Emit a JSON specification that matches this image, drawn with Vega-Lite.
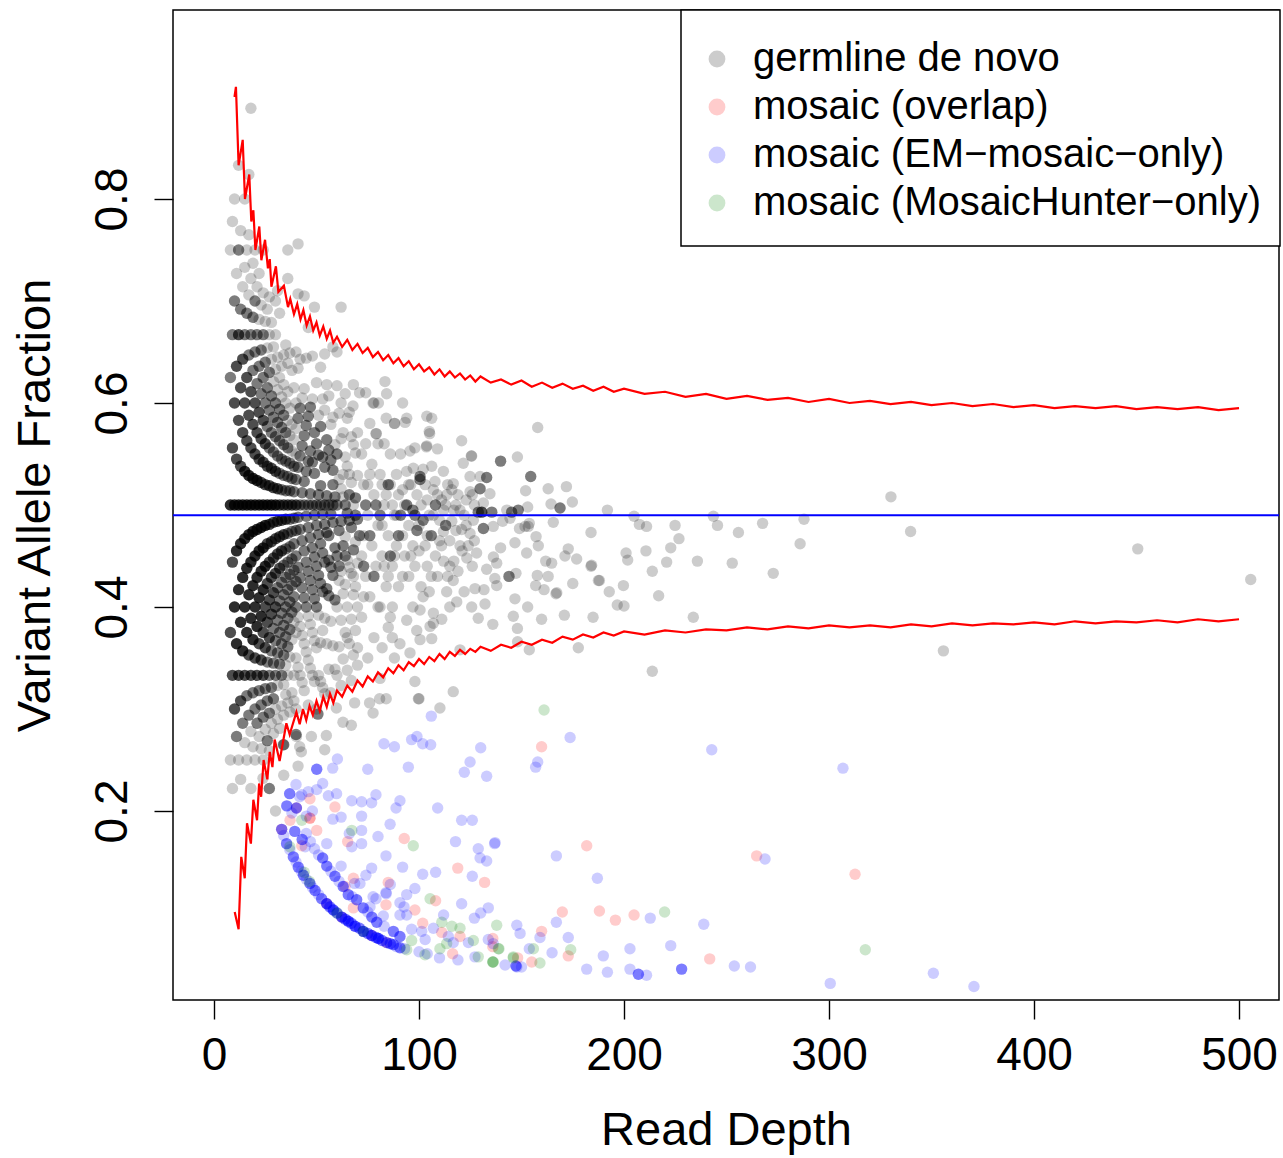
{
"$schema":"https://vega.github.io/schema/vega-lite/v6.json",
"width":1106,"height":990,
"autosize":{"type":"none"},
"padding":{"left":173,"top":10,"right":4,"bottom":158},
"background":"white",
"config":{
"view":{"stroke":"black","strokeWidth":1.5},
"font":"Liberation Sans",
"axis":{"grid":false,"domain":false,"tickColor":"black","tickWidth":1.4,"tickSize":19,"labelColor":"black","labelFont":"Liberation Sans","labelFontSize":46,"titleFont":"Liberation Sans","titleFontSize":47,"titleFontWeight":"normal","titleColor":"black"},
"legend":{"strokeWidth":1.5}
},
"datasets":{
"g":[
{"d":8,"v":0.25,"n":1},{"d":8,"v":0.375,"n":3},{"d":8,"v":0.5,"n":4},{"d":8,"v":0.625,"n":2},{"d":8,"v":0.75,"n":1},
{"d":9,"v":0.222,"n":1},{"d":9,"v":0.333,"n":3},{"d":9,"v":0.444,"n":3},{"d":9,"v":0.556,"n":3},{"d":9,"v":0.667,"n":2},{"d":9,"v":0.778,"n":1},
{"d":10,"v":0.3,"n":3},{"d":10,"v":0.4,"n":4},{"d":10,"v":0.5,"n":4},{"d":10,"v":0.6,"n":3},{"d":10,"v":0.7,"n":2},{"d":10,"v":0.8,"n":1},
{"d":11,"v":0.273,"n":2},{"d":11,"v":0.364,"n":4},{"d":11,"v":0.455,"n":4},{"d":11,"v":0.545,"n":3},{"d":11,"v":0.636,"n":3},{"d":11,"v":0.727,"n":1},
{"d":12,"v":0.25,"n":1},{"d":12,"v":0.333,"n":3},{"d":12,"v":0.417,"n":4},{"d":12,"v":0.5,"n":4},{"d":12,"v":0.583,"n":3},{"d":12,"v":0.667,"n":3},{"d":12,"v":0.75,"n":2},{"d":12,"v":0.833,"n":1},
{"d":13,"v":0.231,"n":1},{"d":13,"v":0.308,"n":3},{"d":13,"v":0.385,"n":4},{"d":13,"v":0.462,"n":4},{"d":13,"v":0.538,"n":3},{"d":13,"v":0.615,"n":3},{"d":13,"v":0.692,"n":2},{"d":13,"v":0.769,"n":1},
{"d":14,"v":0.286,"n":2},{"d":14,"v":0.357,"n":4},{"d":14,"v":0.429,"n":4},{"d":14,"v":0.5,"n":4},{"d":14,"v":0.571,"n":3},{"d":14,"v":0.643,"n":3},{"d":14,"v":0.714,"n":1},
{"d":15,"v":0.267,"n":1},{"d":15,"v":0.333,"n":3},{"d":15,"v":0.4,"n":4},{"d":15,"v":0.467,"n":4},{"d":15,"v":0.533,"n":4},{"d":15,"v":0.6,"n":3},{"d":15,"v":0.667,"n":2},{"d":15,"v":0.733,"n":1},{"d":15,"v":0.8,"n":1},
{"d":16,"v":0.25,"n":1},{"d":16,"v":0.313,"n":2},{"d":16,"v":0.375,"n":4},{"d":16,"v":0.438,"n":4},{"d":16,"v":0.5,"n":4},{"d":16,"v":0.563,"n":3},{"d":16,"v":0.625,"n":3},{"d":16,"v":0.688,"n":2},{"d":16,"v":0.75,"n":1},
{"d":17,"v":0.294,"n":2},{"d":17,"v":0.353,"n":3},{"d":17,"v":0.412,"n":4},{"d":17,"v":0.471,"n":4},{"d":17,"v":0.529,"n":4},{"d":17,"v":0.588,"n":3},{"d":17,"v":0.647,"n":2},{"d":17,"v":0.706,"n":1},{"d":17,"v":0.765,"n":1},{"d":17,"v":0.824,"n":1},
{"d":18,"v":0.222,"n":1},{"d":18,"v":0.278,"n":1},{"d":18,"v":0.333,"n":3},{"d":18,"v":0.389,"n":4},{"d":18,"v":0.444,"n":4},{"d":18,"v":0.5,"n":4},{"d":18,"v":0.556,"n":3},{"d":18,"v":0.611,"n":3},{"d":18,"v":0.667,"n":2},{"d":18,"v":0.722,"n":1},{"d":18,"v":0.889,"n":1},
{"d":19,"v":0.263,"n":1},{"d":19,"v":0.316,"n":2},{"d":19,"v":0.368,"n":4},{"d":19,"v":0.421,"n":4},{"d":19,"v":0.474,"n":4},{"d":19,"v":0.526,"n":4},{"d":19,"v":0.579,"n":3},{"d":19,"v":0.632,"n":2},{"d":19,"v":0.684,"n":2},{"d":19,"v":0.737,"n":1},
{"d":20,"v":0.25,"n":1},{"d":20,"v":0.3,"n":2},{"d":20,"v":0.35,"n":3},{"d":20,"v":0.4,"n":4},{"d":20,"v":0.45,"n":4},{"d":20,"v":0.5,"n":4},{"d":20,"v":0.55,"n":3},{"d":20,"v":0.6,"n":3},{"d":20,"v":0.65,"n":2},{"d":20,"v":0.7,"n":2},{"d":20,"v":0.75,"n":1},
{"d":21,"v":0.286,"n":2},{"d":21,"v":0.333,"n":3},{"d":21,"v":0.381,"n":4},{"d":21,"v":0.429,"n":4},{"d":21,"v":0.476,"n":4},{"d":21,"v":0.524,"n":4},{"d":21,"v":0.571,"n":3},{"d":21,"v":0.619,"n":2},{"d":21,"v":0.667,"n":2},{"d":21,"v":0.714,"n":1},
{"d":22,"v":0.273,"n":1},{"d":22,"v":0.318,"n":2},{"d":22,"v":0.364,"n":3},{"d":22,"v":0.409,"n":4},{"d":22,"v":0.455,"n":4},{"d":22,"v":0.5,"n":4},{"d":22,"v":0.545,"n":3},{"d":22,"v":0.591,"n":3},{"d":22,"v":0.636,"n":2},{"d":22,"v":0.682,"n":1},{"d":22,"v":0.727,"n":1},
{"d":23,"v":0.261,"n":1},{"d":23,"v":0.304,"n":2},{"d":23,"v":0.348,"n":3},{"d":23,"v":0.391,"n":4},{"d":23,"v":0.435,"n":4},{"d":23,"v":0.478,"n":4},{"d":23,"v":0.522,"n":3},{"d":23,"v":0.565,"n":3},{"d":23,"v":0.609,"n":2},{"d":23,"v":0.652,"n":2},{"d":23,"v":0.696,"n":1},
{"d":24,"v":0.25,"n":1},{"d":24,"v":0.292,"n":2},{"d":24,"v":0.333,"n":3},{"d":24,"v":0.375,"n":3},{"d":24,"v":0.417,"n":4},{"d":24,"v":0.458,"n":4},{"d":24,"v":0.5,"n":4},{"d":24,"v":0.542,"n":3},{"d":24,"v":0.583,"n":3},{"d":24,"v":0.625,"n":2},{"d":24,"v":0.667,"n":2},{"d":24,"v":0.708,"n":1},{"d":24,"v":0.75,"n":1},
{"d":25,"v":0.28,"n":1},{"d":25,"v":0.32,"n":2},{"d":25,"v":0.36,"n":3},{"d":25,"v":0.4,"n":3},{"d":25,"v":0.44,"n":4},{"d":25,"v":0.48,"n":4},{"d":25,"v":0.52,"n":3},{"d":25,"v":0.56,"n":3},{"d":25,"v":0.6,"n":2},{"d":25,"v":0.64,"n":2},{"d":25,"v":0.68,"n":1},
{"d":26,"v":0.269,"n":2},{"d":26,"v":0.308,"n":2},{"d":26,"v":0.346,"n":2},{"d":26,"v":0.385,"n":3},{"d":26,"v":0.423,"n":3},{"d":26,"v":0.462,"n":3},{"d":26,"v":0.5,"n":4},{"d":26,"v":0.538,"n":3},{"d":26,"v":0.577,"n":2},{"d":26,"v":0.615,"n":2},{"d":26,"v":0.654,"n":1},{"d":26,"v":0.692,"n":1},
{"d":27,"v":0.222,"n":2},{"d":27,"v":0.259,"n":1},{"d":27,"v":0.296,"n":2},{"d":27,"v":0.333,"n":2},{"d":27,"v":0.37,"n":3},{"d":27,"v":0.407,"n":3},{"d":27,"v":0.444,"n":3},{"d":27,"v":0.481,"n":3},{"d":27,"v":0.519,"n":3},{"d":27,"v":0.556,"n":2},{"d":27,"v":0.593,"n":2},{"d":27,"v":0.63,"n":2},{"d":27,"v":0.667,"n":1},{"d":27,"v":0.704,"n":1},
{"d":28,"v":0.286,"n":1},{"d":28,"v":0.321,"n":2},{"d":28,"v":0.357,"n":2},{"d":28,"v":0.393,"n":3},{"d":28,"v":0.429,"n":3},{"d":28,"v":0.464,"n":3},{"d":28,"v":0.5,"n":4},{"d":28,"v":0.536,"n":3},{"d":28,"v":0.571,"n":2},{"d":28,"v":0.607,"n":2},{"d":28,"v":0.643,"n":1},{"d":28,"v":0.679,"n":1},
{"d":29,"v":0.276,"n":1},{"d":29,"v":0.31,"n":2},{"d":29,"v":0.345,"n":2},{"d":29,"v":0.379,"n":2},{"d":29,"v":0.414,"n":3},{"d":29,"v":0.448,"n":3},{"d":29,"v":0.483,"n":3},{"d":29,"v":0.517,"n":3},{"d":29,"v":0.552,"n":2},{"d":29,"v":0.586,"n":2},{"d":29,"v":0.621,"n":1},{"d":29,"v":0.655,"n":1},
{"d":30,"v":0.2,"n":1},{"d":30,"v":0.3,"n":1},{"d":30,"v":0.333,"n":2},{"d":30,"v":0.367,"n":2},{"d":30,"v":0.4,"n":3},{"d":30,"v":0.433,"n":3},{"d":30,"v":0.467,"n":3},{"d":30,"v":0.5,"n":4},{"d":30,"v":0.533,"n":3},{"d":30,"v":0.567,"n":2},{"d":30,"v":0.6,"n":2},{"d":30,"v":0.633,"n":1},{"d":30,"v":0.667,"n":1},{"d":30,"v":0.7,"n":1},
{"d":31,"v":0.29,"n":1},{"d":31,"v":0.323,"n":1},{"d":31,"v":0.355,"n":2},{"d":31,"v":0.387,"n":2},{"d":31,"v":0.419,"n":2},{"d":31,"v":0.452,"n":3},{"d":31,"v":0.484,"n":3},{"d":31,"v":0.516,"n":3},{"d":31,"v":0.548,"n":2},{"d":31,"v":0.581,"n":2},{"d":31,"v":0.613,"n":1},{"d":31,"v":0.645,"n":1},{"d":31,"v":0.71,"n":1},
{"d":32,"v":0.281,"n":1},{"d":32,"v":0.344,"n":2},{"d":32,"v":0.375,"n":2},{"d":32,"v":0.406,"n":2},{"d":32,"v":0.438,"n":3},{"d":32,"v":0.469,"n":3},{"d":32,"v":0.5,"n":3},{"d":32,"v":0.531,"n":2},{"d":32,"v":0.563,"n":2},{"d":32,"v":0.594,"n":2},{"d":32,"v":0.625,"n":1},{"d":32,"v":0.688,"n":1},
{"d":33,"v":0.303,"n":1},{"d":33,"v":0.333,"n":2},{"d":33,"v":0.364,"n":2},{"d":33,"v":0.394,"n":2},{"d":33,"v":0.424,"n":2},{"d":33,"v":0.455,"n":3},{"d":33,"v":0.485,"n":3},{"d":33,"v":0.515,"n":2},{"d":33,"v":0.545,"n":2},{"d":33,"v":0.576,"n":2},{"d":33,"v":0.606,"n":1},{"d":33,"v":0.636,"n":1},
{"d":34,"v":0.235,"n":1},{"d":34,"v":0.265,"n":2},{"d":34,"v":0.294,"n":1},{"d":34,"v":0.324,"n":1},{"d":34,"v":0.353,"n":2},{"d":34,"v":0.382,"n":2},{"d":34,"v":0.412,"n":2},{"d":34,"v":0.441,"n":2},{"d":34,"v":0.471,"n":3},{"d":34,"v":0.5,"n":3},{"d":34,"v":0.529,"n":2},{"d":34,"v":0.559,"n":2},{"d":34,"v":0.588,"n":2},{"d":34,"v":0.618,"n":1},{"d":34,"v":0.647,"n":1},
{"d":35,"v":0.314,"n":1},{"d":35,"v":0.343,"n":1},{"d":35,"v":0.371,"n":2},{"d":35,"v":0.4,"n":2},{"d":35,"v":0.429,"n":2},{"d":35,"v":0.457,"n":2},{"d":35,"v":0.486,"n":3},{"d":35,"v":0.514,"n":2},{"d":35,"v":0.543,"n":2},{"d":35,"v":0.571,"n":2},{"d":35,"v":0.6,"n":1},{"d":35,"v":0.657,"n":1},
{"d":36,"v":0.306,"n":1},{"d":36,"v":0.333,"n":1},{"d":36,"v":0.361,"n":2},{"d":36,"v":0.389,"n":2},{"d":36,"v":0.417,"n":2},{"d":36,"v":0.444,"n":2},{"d":36,"v":0.472,"n":2},{"d":36,"v":0.5,"n":3},{"d":36,"v":0.528,"n":2},{"d":36,"v":0.556,"n":2},{"d":36,"v":0.583,"n":1},{"d":36,"v":0.611,"n":1},{"d":36,"v":0.639,"n":1},{"d":36,"v":0.722,"n":1},{"d":36,"v":0.75,"n":1},
{"d":37,"v":0.297,"n":1},{"d":37,"v":0.351,"n":1},{"d":37,"v":0.378,"n":2},{"d":37,"v":0.405,"n":2},{"d":37,"v":0.432,"n":2},{"d":37,"v":0.459,"n":2},{"d":37,"v":0.486,"n":2},{"d":37,"v":0.514,"n":2},{"d":37,"v":0.541,"n":2},{"d":37,"v":0.568,"n":1},{"d":37,"v":0.595,"n":1},{"d":37,"v":0.649,"n":1},
{"d":38,"v":0.316,"n":1},{"d":38,"v":0.368,"n":1},{"d":38,"v":0.395,"n":2},{"d":38,"v":0.421,"n":2},{"d":38,"v":0.447,"n":2},{"d":38,"v":0.474,"n":2},{"d":38,"v":0.5,"n":3},{"d":38,"v":0.526,"n":2},{"d":38,"v":0.553,"n":1},{"d":38,"v":0.579,"n":1},{"d":38,"v":0.632,"n":1},
{"d":39,"v":0.308,"n":1},{"d":39,"v":0.333,"n":1},{"d":39,"v":0.385,"n":1},{"d":39,"v":0.41,"n":2},{"d":39,"v":0.436,"n":2},{"d":39,"v":0.462,"n":2},{"d":39,"v":0.487,"n":2},{"d":39,"v":0.513,"n":2},{"d":39,"v":0.538,"n":2},{"d":39,"v":0.564,"n":1},{"d":39,"v":0.615,"n":1},
{"d":40,"v":0.275,"n":2},{"d":40,"v":0.3,"n":1},{"d":40,"v":0.35,"n":1},{"d":40,"v":0.375,"n":1},{"d":40,"v":0.4,"n":2},{"d":40,"v":0.425,"n":2},{"d":40,"v":0.45,"n":2},{"d":40,"v":0.475,"n":2},{"d":40,"v":0.5,"n":3},{"d":40,"v":0.525,"n":2},{"d":40,"v":0.55,"n":1},{"d":40,"v":0.575,"n":1},{"d":40,"v":0.6,"n":1},{"d":40,"v":0.65,"n":1},
{"d":41,"v":0.341,"n":1},{"d":41,"v":0.39,"n":1},{"d":41,"v":0.439,"n":2},{"d":41,"v":0.488,"n":2},{"d":41,"v":0.537,"n":2},{"d":41,"v":0.585,"n":2},{"d":41,"v":0.634,"n":1},{"d":41,"v":0.707,"n":1},{"d":41,"v":0.756,"n":1},{"d":41,"v":0.244,"n":1},
{"d":42,"v":0.333,"n":1},{"d":42,"v":0.381,"n":1},{"d":42,"v":0.429,"n":2},{"d":42,"v":0.476,"n":2},{"d":42,"v":0.5,"n":2},{"d":42,"v":0.548,"n":2},{"d":42,"v":0.595,"n":2},{"d":42,"v":0.643,"n":1},{"d":42.6,"v":0.258,"n":1},{"d":41.8,"v":0.263,"n":1},
{"d":43,"v":0.326,"n":1},{"d":43,"v":0.372,"n":1},{"d":43,"v":0.419,"n":2},{"d":43,"v":0.465,"n":2},{"d":43,"v":0.512,"n":2},{"d":43,"v":0.558,"n":2},{"d":43,"v":0.605,"n":1},
{"d":44,"v":0.318,"n":1},{"d":44,"v":0.364,"n":1},{"d":44,"v":0.409,"n":2},{"d":44,"v":0.455,"n":2},{"d":44,"v":0.5,"n":2},{"d":44,"v":0.523,"n":2},{"d":44,"v":0.568,"n":2},{"d":44,"v":0.614,"n":1},{"d":44,"v":0.705,"n":1},
{"d":45,"v":0.356,"n":1},{"d":45,"v":0.4,"n":2},{"d":45,"v":0.444,"n":2},{"d":45,"v":0.489,"n":2},{"d":45,"v":0.533,"n":2},{"d":45,"v":0.578,"n":2},{"d":45,"v":0.644,"n":1},
{"d":46,"v":0.304,"n":1},{"d":46,"v":0.348,"n":1},{"d":46,"v":0.391,"n":1},{"d":46,"v":0.435,"n":2},{"d":46,"v":0.478,"n":2},{"d":46,"v":0.5,"n":2},{"d":46,"v":0.543,"n":2},{"d":46,"v":0.587,"n":2},{"d":46,"v":0.674,"n":1},
{"d":47,"v":0.34,"n":1},{"d":47,"v":0.383,"n":1},{"d":47,"v":0.426,"n":2},{"d":47,"v":0.468,"n":2},{"d":47,"v":0.511,"n":2},{"d":47,"v":0.553,"n":2},{"d":47,"v":0.596,"n":2},{"d":47.5,"v":0.273,"n":1},
{"d":48,"v":0.333,"n":1},{"d":48,"v":0.375,"n":1},{"d":48,"v":0.417,"n":2},{"d":48,"v":0.458,"n":2},{"d":48,"v":0.5,"n":2},{"d":48,"v":0.542,"n":2},{"d":48,"v":0.604,"n":1},{"d":48,"v":0.646,"n":1},
{"d":49,"v":0.327,"n":1},{"d":49,"v":0.367,"n":1},{"d":49,"v":0.408,"n":2},{"d":49,"v":0.449,"n":2},{"d":49,"v":0.49,"n":2},{"d":49,"v":0.531,"n":2},{"d":49,"v":0.571,"n":2},{"d":49,"v":0.694,"n":1},
{"d":50,"v":0.3,"n":1},{"d":50,"v":0.36,"n":1},{"d":50,"v":0.4,"n":2},{"d":50,"v":0.44,"n":2},{"d":50,"v":0.48,"n":2},{"d":50,"v":0.5,"n":2},{"d":50,"v":0.56,"n":2},{"d":50,"v":0.62,"n":1},{"d":50.7,"v":0.295,"n":2},
{"d":51,"v":0.333,"n":1},{"d":51,"v":0.392,"n":1},{"d":51,"v":0.431,"n":2},{"d":51,"v":0.471,"n":2},{"d":51,"v":0.51,"n":2},{"d":51,"v":0.549,"n":2},{"d":51,"v":0.588,"n":1},
{"d":52,"v":0.327,"n":1},{"d":52,"v":0.365,"n":1},{"d":52,"v":0.423,"n":2},{"d":52,"v":0.462,"n":2},{"d":52,"v":0.5,"n":2},{"d":52,"v":0.519,"n":2},{"d":52,"v":0.577,"n":2},{"d":52,"v":0.635,"n":1},
{"d":53,"v":0.321,"n":1},{"d":53,"v":0.377,"n":1},{"d":53,"v":0.415,"n":2},{"d":53,"v":0.453,"n":2},{"d":53,"v":0.491,"n":2},{"d":53,"v":0.547,"n":2},{"d":53,"v":0.604,"n":1},
{"d":54,"v":0.315,"n":1},{"d":54,"v":0.389,"n":1},{"d":54,"v":0.444,"n":2},{"d":54,"v":0.481,"n":2},{"d":54,"v":0.5,"n":2},{"d":54,"v":0.537,"n":2},{"d":54,"v":0.593,"n":1},{"d":54,"v":0.648,"n":1},{"d":54,"v":0.26,"n":1},{"d":54.8,"v":0.274,"n":1},
{"d":55,"v":0.364,"n":1},{"d":55,"v":0.418,"n":2},{"d":55,"v":0.473,"n":2},{"d":55,"v":0.509,"n":2},{"d":55,"v":0.564,"n":2},{"d":55,"v":0.618,"n":1},
{"d":56,"v":0.339,"n":1},{"d":56,"v":0.411,"n":2},{"d":56,"v":0.446,"n":2},{"d":56,"v":0.5,"n":2},{"d":56,"v":0.554,"n":2},{"d":56,"v":0.607,"n":1},{"d":56,"v":0.47,"n":2},
{"d":57,"v":0.316,"n":1},{"d":57,"v":0.386,"n":1},{"d":57,"v":0.439,"n":2},{"d":57,"v":0.491,"n":2},{"d":57,"v":0.544,"n":2},{"d":57,"v":0.579,"n":1},
{"d":58,"v":0.362,"n":1},{"d":58,"v":0.431,"n":2},{"d":58,"v":0.483,"n":2},{"d":58,"v":0.5,"n":2},{"d":58,"v":0.534,"n":2},{"d":58,"v":0.586,"n":1},{"d":58,"v":0.655,"n":1},{"d":58,"v":0.52,"n":2},
{"d":59,"v":0.339,"n":1},{"d":59,"v":0.407,"n":2},{"d":59,"v":0.458,"n":2},{"d":59,"v":0.508,"n":2},{"d":59,"v":0.559,"n":1},{"d":59.7,"v":0.301,"n":1},
{"d":60,"v":0.333,"n":1},{"d":60,"v":0.4,"n":1},{"d":60,"v":0.45,"n":2},{"d":60,"v":0.5,"n":2},{"d":60,"v":0.55,"n":2},{"d":60,"v":0.617,"n":1},{"d":60,"v":0.65,"n":1},
{"d":61,"v":0.361,"n":1},{"d":61,"v":0.426,"n":1},{"d":61,"v":0.475,"n":2},{"d":61,"v":0.525,"n":1},{"d":61,"v":0.59,"n":1},{"d":61,"v":0.44,"n":2},
{"d":62,"v":0.323,"n":1},{"d":62,"v":0.387,"n":1},{"d":62,"v":0.435,"n":1},{"d":62,"v":0.484,"n":2},{"d":62,"v":0.516,"n":1},{"d":62,"v":0.565,"n":1},{"d":62,"v":0.694,"n":1},{"d":62.9,"v":0.287,"n":1},{"d":62,"v":0.6,"n":1},
{"d":63,"v":0.349,"n":1},{"d":63,"v":0.413,"n":1},{"d":63,"v":0.46,"n":2},{"d":63,"v":0.508,"n":1},{"d":63,"v":0.571,"n":1},{"d":63,"v":0.53,"n":1},
{"d":64,"v":0.375,"n":1},{"d":64,"v":0.422,"n":1},{"d":64,"v":0.469,"n":1},{"d":64,"v":0.5,"n":2},{"d":64,"v":0.547,"n":1},{"d":64,"v":0.609,"n":1},{"d":64,"v":0.45,"n":2},
{"d":65,"v":0.338,"n":1},{"d":65,"v":0.4,"n":1},{"d":65,"v":0.446,"n":1},{"d":65,"v":0.492,"n":2},{"d":65,"v":0.538,"n":1},{"d":65,"v":0.585,"n":1},{"d":65,"v":0.37,"n":1},
{"d":66,"v":0.364,"n":1},{"d":66,"v":0.439,"n":1},{"d":66,"v":0.485,"n":2},{"d":66,"v":0.53,"n":1},{"d":66,"v":0.591,"n":1},{"d":66,"v":0.51,"n":2},
{"d":67,"v":0.328,"n":1},{"d":67,"v":0.388,"n":1},{"d":67,"v":0.433,"n":1},{"d":67,"v":0.478,"n":2},{"d":67,"v":0.522,"n":1},{"d":67,"v":0.567,"n":1},{"d":67,"v":0.284,"n":1},{"d":67.8,"v":0.597,"n":1},
{"d":68,"v":0.353,"n":1},{"d":68,"v":0.412,"n":1},{"d":68,"v":0.456,"n":2},{"d":68,"v":0.5,"n":1},{"d":68,"v":0.559,"n":1},{"d":68,"v":0.618,"n":1},{"d":68.6,"v":0.306,"n":1},{"d":68,"v":0.43,"n":1},
{"d":69,"v":0.377,"n":1},{"d":69,"v":0.42,"n":1},{"d":69,"v":0.464,"n":1},{"d":69,"v":0.507,"n":2},{"d":69,"v":0.551,"n":1},{"d":69,"v":0.49,"n":2},
{"d":70,"v":0.343,"n":1},{"d":70,"v":0.4,"n":1},{"d":70,"v":0.443,"n":1},{"d":70,"v":0.486,"n":2},{"d":70,"v":0.529,"n":1},{"d":70,"v":0.571,"n":1},{"d":70,"v":0.36,"n":1},
{"d":23.9,"v":0.232,"n":1},{"d":33.7,"v":0.265,"n":1},{"d":40.2,"v":0.273,"n":1},{"d":75.9,"v":0.306,"n":1},{"d":77.6,"v":0.296,"n":1},{"d":80.8,"v":0.31,"n":1},{"d":84,"v":0.31,"n":1},{"d":98,"v":0.327,"n":1},{"d":100,"v":0.31,"n":1},{"d":116.7,"v":0.317,"n":1},{"d":110.2,"v":0.301,"n":1},
{"d":71,"v":0.61,"n":1},{"d":72,"v":0.45,"n":1},{"d":72,"v":0.39,"n":1},{"d":73,"v":0.52,"n":1},{"d":73,"v":0.47,"n":1},{"d":74,"v":0.43,"n":1},{"d":74,"v":0.56,"n":1},{"d":75,"v":0.35,"n":1},{"d":75,"v":0.49,"n":1},{"d":76,"v":0.58,"n":1},{"d":76,"v":0.41,"n":1},{"d":77,"v":0.46,"n":1},{"d":78,"v":0.51,"n":1},{"d":78,"v":0.37,"n":1},{"d":79,"v":0.57,"n":1},{"d":79,"v":0.44,"n":1},{"d":80,"v":0.48,"n":1},{"d":80,"v":0.4,"n":1},{"d":81,"v":0.53,"n":1},{"d":81,"v":0.33,"n":1},{"d":82,"v":0.45,"n":1},{"d":82,"v":0.36,"n":1},{"d":83,"v":0.56,"n":1},{"d":83,"v":0.5,"n":1},{"d":84,"v":0.42,"n":1},{"d":85,"v":0.47,"n":1},{"d":85,"v":0.38,"n":1},{"d":86,"v":0.55,"n":1},{"d":86,"v":0.52,"n":1},{"d":87,"v":0.44,"n":1},{"d":87,"v":0.4,"n":1},{"d":88,"v":0.58,"n":1},{"d":88,"v":0.49,"n":1},{"d":88,"v":0.35,"n":1},{"d":89,"v":0.46,"n":1},{"d":89,"v":0.53,"n":1},{"d":90,"v":0.42,"n":1},{"d":90,"v":0.51,"n":1},
{"d":83.4,"v":0.621,"n":1},{"d":80.2,"v":0.6,"n":1},{"d":84.2,"v":0.609,"n":1},{"d":77.6,"v":0.6,"n":1},{"d":79.2,"v":0.57,"n":1},{"d":84,"v":0.585,"n":1},{"d":88.1,"v":0.58,"n":1},{"d":71,"v":0.47,"n":2},{"d":74,"v":0.5,"n":2},{"d":76,"v":0.53,"n":1},{"d":78,"v":0.43,"n":2},{"d":81,"v":0.49,"n":2},{"d":84,"v":0.51,"n":1},{"d":86,"v":0.45,"n":2},{"d":89,"v":0.49,"n":1},{"d":73,"v":0.41,"n":1},{"d":77,"v":0.54,"n":1},{"d":80,"v":0.56,"n":1},{"d":82,"v":0.52,"n":1},{"d":85,"v":0.43,"n":1},{"d":87,"v":0.37,"n":1},
{"d":72,"v":0.55,"n":1},{"d":73,"v":0.44,"n":2},{"d":75,"v":0.52,"n":1},{"d":76,"v":0.47,"n":2},{"d":79,"v":0.5,"n":2},{"d":82,"v":0.48,"n":1},{"d":83,"v":0.44,"n":1},{"d":85,"v":0.52,"n":2},{"d":87,"v":0.5,"n":1},{"d":88,"v":0.45,"n":1},{"d":74,"v":0.61,"n":1},{"d":78,"v":0.6,"n":1},{"d":81,"v":0.4,"n":1},{"d":86,"v":0.39,"n":1},
{"d":90,"v":0.47,"n":2},{"d":91,"v":0.55,"n":1},{"d":92,"v":0.43,"n":1},{"d":93,"v":0.5,"n":1},{"d":95,"v":0.52,"n":1},{"d":96,"v":0.45,"n":1},{"d":98,"v":0.49,"n":2},{"d":100,"v":0.48,"n":1},{"d":103,"v":0.52,"n":1},{"d":104,"v":0.47,"n":1},{"d":106,"v":0.43,"n":1},{"d":107,"v":0.49,"n":1},{"d":109,"v":0.51,"n":1},{"d":111,"v":0.46,"n":1},{"d":113,"v":0.5,"n":1},{"d":115,"v":0.44,"n":1},{"d":118,"v":0.5,"n":1},{"d":120,"v":0.46,"n":1},{"d":123,"v":0.48,"n":1},{"d":126,"v":0.51,"n":1},{"d":92,"v":0.6,"n":1},{"d":97,"v":0.4,"n":1},{"d":102,"v":0.41,"n":1},
{"d":94,"v":0.585,"n":1},{"d":103.8,"v":0.587,"n":1},{"d":106.2,"v":0.585,"n":1},{"d":93.2,"v":0.581,"n":1},{"d":105,"v":0.572,"n":1},{"d":120.8,"v":0.563,"n":1},{"d":103.8,"v":0.558,"n":1},{"d":98,"v":0.556,"n":1},{"d":95.6,"v":0.553,"n":1},{"d":125.7,"v":0.548,"n":1},{"d":121.6,"v":0.541,"n":1},{"d":106.2,"v":0.538,"n":1},{"d":97.2,"v":0.536,"n":1},{"d":94,"v":0.533,"n":1},{"d":111.9,"v":0.533,"n":1},{"d":100.5,"v":0.528,"n":2},{"d":129.8,"v":0.528,"n":1},{"d":124.9,"v":0.528,"n":1},{"d":116.7,"v":0.521,"n":1},{"d":116,"v":0.515,"n":1},{"d":107.8,"v":0.523,"n":1},{"d":113.5,"v":0.51,"n":1},{"d":129.8,"v":0.516,"n":2},{"d":124.9,"v":0.513,"n":1},{"d":100.5,"v":0.525,"n":2},{"d":128.9,"v":0.493,"n":2},{"d":126.5,"v":0.485,"n":1},{"d":116,"v":0.484,"n":1},{"d":120.8,"v":0.476,"n":1},{"d":111.9,"v":0.474,"n":1},{"d":124.9,"v":0.472,"n":1},{"d":128.1,"v":0.453,"n":1},{"d":123.3,"v":0.448,"n":1},{"d":116.7,"v":0.426,"n":1},{"d":113.5,"v":0.415,"n":1},{"d":118.4,"v":0.405,"n":1},{"d":125.7,"v":0.4,"n":1},{"d":127.3,"v":0.418,"n":1},{"d":128.9,"v":0.389,"n":1},{"d":111.1,"v":0.388,"n":1},{"d":107,"v":0.394,"n":1},{"d":105.4,"v":0.381,"n":1},{"d":120,"v":0.358,"n":1},{"d":99.7,"v":0.31,"n":1},{"d":100.5,"v":0.368,"n":1},{"d":106.2,"v":0.369,"n":1},{"d":95.6,"v":0.355,"n":1},{"d":90.7,"v":0.364,"n":1},{"d":100.5,"v":0.397,"n":1},{"d":107,"v":0.384,"n":1},{"d":94,"v":0.387,"n":1},{"d":98.9,"v":0.377,"n":1},{"d":105.2,"v":0.57,"n":1},{"d":103.6,"v":0.557,"n":1},{"d":125.5,"v":0.548,"n":1},
{"d":91,"v":0.49,"n":2},{"d":92,"v":0.47,"n":1},{"d":92,"v":0.515,"n":1},{"d":93,"v":0.45,"n":1},{"d":94,"v":0.5,"n":2},{"d":95,"v":0.48,"n":1},{"d":95,"v":0.43,"n":1},{"d":96,"v":0.52,"n":1},{"d":97,"v":0.46,"n":1},{"d":97,"v":0.495,"n":2},{"d":98,"v":0.44,"n":1},{"d":99,"v":0.51,"n":1},{"d":99,"v":0.475,"n":2},{"d":100,"v":0.455,"n":1},{"d":101,"v":0.5,"n":1},{"d":101,"v":0.42,"n":1},{"d":102,"v":0.485,"n":2},{"d":102,"v":0.535,"n":1},{"d":103,"v":0.46,"n":1},{"d":104,"v":0.505,"n":1},{"d":104,"v":0.44,"n":1},{"d":105,"v":0.49,"n":1},{"d":105,"v":0.415,"n":1},{"d":106,"v":0.47,"n":2},{"d":107,"v":0.515,"n":1},{"d":108,"v":0.45,"n":1},{"d":108,"v":0.5,"n":2},{"d":109,"v":0.43,"n":1},{"d":109,"v":0.555,"n":1},{"d":110,"v":0.485,"n":1},{"d":110,"v":0.465,"n":1},{"d":111,"v":0.505,"n":1},{"d":112,"v":0.445,"n":1},{"d":112,"v":0.495,"n":1},{"d":113,"v":0.48,"n":2},{"d":114,"v":0.43,"n":1},{"d":114,"v":0.52,"n":1},{"d":115,"v":0.465,"n":1},{"d":115,"v":0.4,"n":1},{"d":117,"v":0.495,"n":1},{"d":117,"v":0.445,"n":1},{"d":118,"v":0.475,"n":1},{"d":119,"v":0.51,"n":1},{"d":119,"v":0.435,"n":1},{"d":120,"v":0.495,"n":1},{"d":121,"v":0.455,"n":1},{"d":122,"v":0.49,"n":1},{"d":122,"v":0.415,"n":1},{"d":123,"v":0.505,"n":1},{"d":124,"v":0.46,"n":1},{"d":126,"v":0.44,"n":1},{"d":127,"v":0.5,"n":1},{"d":127,"v":0.465,"n":1},
{"d":157.9,"v":0.576,"n":1},{"d":139.8,"v":0.543,"n":2},{"d":148,"v":0.547,"n":1},{"d":154.5,"v":0.528,"n":2},{"d":133,"v":0.527,"n":2},{"d":152,"v":0.514,"n":1},{"d":163,"v":0.516,"n":1},{"d":171.9,"v":0.518,"n":1},{"d":174.8,"v":0.503,"n":1},{"d":164.4,"v":0.501,"n":1},{"d":168.8,"v":0.497,"n":2},{"d":191.9,"v":0.495,"n":1},{"d":204.9,"v":0.489,"n":1},{"d":207.5,"v":0.481,"n":1},{"d":211,"v":0.479,"n":1},{"d":224.9,"v":0.48,"n":1},{"d":226.8,"v":0.467,"n":1},{"d":243.6,"v":0.489,"n":1},{"d":245.6,"v":0.48,"n":1},{"d":255.8,"v":0.473,"n":1},{"d":267.6,"v":0.482,"n":1},{"d":287.8,"v":0.486,"n":1},{"d":285.9,"v":0.462,"n":1},{"d":272.8,"v":0.433,"n":1},{"d":252.8,"v":0.443,"n":1},{"d":235.8,"v":0.445,"n":1},{"d":222.8,"v":0.458,"n":1},{"d":220.8,"v":0.444,"n":1},{"d":213.8,"v":0.435,"n":1},{"d":210.7,"v":0.455,"n":1},{"d":201,"v":0.453,"n":1},{"d":201.8,"v":0.446,"n":1},{"d":216.9,"v":0.411,"n":1},{"d":233.8,"v":0.39,"n":1},{"d":213.8,"v":0.337,"n":1},{"d":196.7,"v":0.402,"n":1},{"d":200,"v":0.401,"n":1},{"d":199.7,"v":0.421,"n":1},{"d":192.8,"v":0.415,"n":1},{"d":188,"v":0.426,"n":1},{"d":183.9,"v":0.44,"n":1},{"d":183.9,"v":0.473,"n":1},{"d":176.9,"v":0.447,"n":1},{"d":175,"v":0.423,"n":1},{"d":184.9,"v":0.39,"n":1},{"d":177.7,"v":0.36,"n":1},{"d":170.9,"v":0.392,"n":1},{"d":159.8,"v":0.388,"n":1},{"d":166.8,"v":0.413,"n":1},{"d":172.8,"v":0.457,"n":1},{"d":171.2,"v":0.45,"n":1},{"d":164.7,"v":0.443,"n":1},{"d":161.8,"v":0.445,"n":1},{"d":163,"v":0.43,"n":1},{"d":157.7,"v":0.431,"n":1},{"d":161,"v":0.417,"n":1},{"d":156.9,"v":0.421,"n":1},{"d":153,"v":0.4,"n":1},{"d":146.8,"v":0.408,"n":1},{"d":148,"v":0.379,"n":1},{"d":146,"v":0.391,"n":1},{"d":136,"v":0.383,"n":1},{"d":153.8,"v":0.358,"n":1},{"d":148.1,"v":0.366,"n":1},{"d":158.2,"v":0.46,"n":1},{"d":153.3,"v":0.479,"n":1},{"d":149,"v":0.477,"n":1},{"d":153.8,"v":0.482,"n":1},{"d":165.5,"v":0.483,"n":1},{"d":143.9,"v":0.43,"n":2},{"d":147.3,"v":0.433,"n":1},{"d":139.8,"v":0.458,"n":1},{"d":136.3,"v":0.449,"n":1},{"d":137.9,"v":0.443,"n":1},{"d":133,"v":0.437,"n":1},{"d":137,"v":0.428,"n":1},{"d":137.9,"v":0.421,"n":1},{"d":131.7,"v":0.417,"n":1},{"d":132.2,"v":0.403,"n":1},{"d":146.8,"v":0.463,"n":1},{"d":136.2,"v":0.479,"n":1},{"d":131.4,"v":0.477,"n":2},{"d":142.8,"v":0.495,"n":1},{"d":145.2,"v":0.493,"n":2},{"d":148.4,"v":0.495,"n":2},{"d":140.8,"v":0.484,"n":1},{"d":151.7,"v":0.479,"n":1},{"d":153,"v":0.498,"n":1},{"d":134.6,"v":0.511,"n":1},{"d":131.4,"v":0.502,"n":1},{"d":135.5,"v":0.493,"n":2},{"d":130.6,"v":0.493,"n":3},{"d":144.4,"v":0.487,"n":1},{"d":157.1,"v":0.469,"n":1},{"d":152.5,"v":0.453,"n":1},{"d":167.2,"v":0.414,"n":1},{"d":184.2,"v":0.441,"n":1},{"d":187.5,"v":0.426,"n":1},
{"d":330.2,"v":0.508,"n":1},{"d":339.8,"v":0.474,"n":1},{"d":450.6,"v":0.457,"n":1},{"d":505.7,"v":0.427,"n":1},{"d":355.8,"v":0.357,"n":1}
],
"o":[
{"d":159.8,"v":0.263},{"d":181.8,"v":0.166},{"d":264.7,"v":0.156},{"d":312.7,"v":0.138},{"d":132,"v":0.13},{"d":169.9,"v":0.101},{"d":188,"v":0.102},{"d":195.8,"v":0.093},{"d":204.9,"v":0.098},{"d":241.8,"v":0.055},{"d":159.8,"v":0.082},{"d":136,"v":0.075},{"d":136,"v":0.067},{"d":148.1,"v":0.056},{"d":155,"v":0.052},{"d":172.8,"v":0.058},{"d":46.8,"v":0.212},{"d":37.1,"v":0.191},{"d":46.8,"v":0.193},{"d":46.8,"v":0.193},{"d":50.1,"v":0.181},{"d":59,"v":0.204},{"d":42.8,"v":0.166},{"d":92.8,"v":0.173},{"d":118.9,"v":0.144},{"d":63.9,"v":0.126},{"d":83.9,"v":0.108},{"d":98,"v":0.103},{"d":68,"v":0.105},{"d":108.1,"v":0.112},{"d":101.8,"v":0.09},{"d":111.1,"v":0.081},{"d":120,"v":0.077},{"d":116.4,"v":0.06},{"d":85,"v":0.13},{"d":65.2,"v":0.17},{"d":68,"v":0.134},{"d":33,"v":0.182},{"d":40.2,"v":0.203},{"d":55,"v":0.109},{"d":62.3,"v":0.096},{"d":76.9,"v":0.078},{"d":84.2,"v":0.071}
],
"e":[
{"d":33,"v":0.182,"n":2},{"d":34,"v":0.176,"n":1},{"d":35.4,"v":0.168,"n":2},{"d":37,"v":0.162,"n":1},{"d":38.7,"v":0.155,"n":2},{"d":40,"v":0.15,"n":1},{"d":41.1,"v":0.145,"n":2},{"d":42.5,"v":0.141,"n":1},{"d":43.6,"v":0.137,"n":2},{"d":45,"v":0.133,"n":1},{"d":46.8,"v":0.129,"n":2},{"d":48,"v":0.125,"n":1},{"d":49.3,"v":0.122,"n":2},{"d":51,"v":0.118,"n":1},{"d":52.5,"v":0.114,"n":2},{"d":55,"v":0.109,"n":3},{"d":56.5,"v":0.106,"n":2},{"d":58.2,"v":0.103,"n":3},{"d":60,"v":0.1,"n":2},{"d":62.3,"v":0.096,"n":3},{"d":64,"v":0.094,"n":2},{"d":65.5,"v":0.092,"n":3},{"d":67,"v":0.09,"n":2},{"d":68.8,"v":0.087,"n":3},{"d":71,"v":0.085,"n":2},{"d":72.8,"v":0.082,"n":3},{"d":75,"v":0.08,"n":2},{"d":76.9,"v":0.078,"n":3},{"d":79,"v":0.076,"n":2},{"d":80.2,"v":0.075,"n":3},{"d":82,"v":0.073,"n":2},{"d":84.2,"v":0.071,"n":2},{"d":86,"v":0.07,"n":2},{"d":87.5,"v":0.069,"n":2},{"d":89,"v":0.067,"n":1},{"d":90.7,"v":0.066,"n":2},{"d":93,"v":0.065,"n":1},
{"d":45,"v":0.178,"n":1},{"d":47,"v":0.17,"n":1},{"d":49,"v":0.163,"n":1},{"d":51,"v":0.157,"n":1},{"d":53,"v":0.154,"n":2},{"d":55,"v":0.146,"n":2},{"d":57,"v":0.141,"n":1},{"d":59,"v":0.136,"n":2},{"d":61,"v":0.131,"n":1},{"d":63,"v":0.126,"n":2},{"d":65.5,"v":0.118,"n":2},{"d":67.5,"v":0.116,"n":1},{"d":69.6,"v":0.113,"n":2},{"d":72.8,"v":0.105,"n":2},{"d":75,"v":0.101,"n":1},{"d":77,"v":0.096,"n":2},{"d":79.4,"v":0.091,"n":2},{"d":83,"v":0.087,"n":1},{"d":87.5,"v":0.082,"n":2},{"d":90.7,"v":0.077,"n":2},
{"d":36.9,"v":0.217,"n":2},{"d":41.8,"v":0.214,"n":1},{"d":40.2,"v":0.203,"n":2},{"d":39.4,"v":0.18,"n":2},{"d":35.5,"v":0.205,"n":2},{"d":38,"v":0.198,"n":1},{"d":43,"v":0.172,"n":2},{"d":44.5,"v":0.165,"n":1},
{"d":82.9,"v":0.266,"n":1},{"d":88,"v":0.263,"n":1},{"d":96.4,"v":0.27,"n":1},{"d":101.8,"v":0.266,"n":1},{"d":105.7,"v":0.265,"n":1},{"d":130.1,"v":0.262,"n":1},{"d":124.9,"v":0.248,"n":1},{"d":122.1,"v":0.238,"n":1},{"d":133,"v":0.234,"n":1},{"d":60.2,"v":0.251,"n":1},{"d":57.9,"v":0.242,"n":1},{"d":50.1,"v":0.241,"n":2},{"d":75,"v":0.241,"n":1},{"d":94.8,"v":0.243,"n":1},{"d":40,"v":0.226,"n":1},{"d":42.8,"v":0.216,"n":1},{"d":53,"v":0.227,"n":1},{"d":50.1,"v":0.221,"n":1},{"d":46,"v":0.219,"n":1},{"d":59.8,"v":0.217,"n":1},{"d":55.8,"v":0.215,"n":1},{"d":67.2,"v":0.21,"n":1},{"d":72,"v":0.209,"n":1},{"d":76.9,"v":0.208,"n":1},{"d":79,"v":0.216,"n":1},{"d":90.7,"v":0.21,"n":1},{"d":88.8,"v":0.203,"n":1},{"d":109.1,"v":0.203,"n":1},{"d":120.8,"v":0.191,"n":1},{"d":126,"v":0.191,"n":1},{"d":137.1,"v":0.169,"n":1},{"d":117.8,"v":0.17,"n":1},{"d":128.9,"v":0.163,"n":1},{"d":129.8,"v":0.154,"n":1},{"d":133,"v":0.151,"n":1},{"d":62,"v":0.194,"n":1},{"d":72,"v":0.195,"n":1},{"d":72,"v":0.181,"n":1},{"d":72,"v":0.168,"n":1},{"d":67.2,"v":0.165,"n":1},{"d":85.9,"v":0.187,"n":1},{"d":83.9,"v":0.156,"n":1},{"d":62,"v":0.146,"n":1},{"d":76.9,"v":0.144,"n":1},{"d":74.1,"v":0.137,"n":1},{"d":71.2,"v":0.129,"n":1},{"d":101.8,"v":0.138,"n":1},{"d":108.1,"v":0.14,"n":1},{"d":126,"v":0.136,"n":1},{"d":120.8,"v":0.109,"n":1},{"d":98,"v":0.124,"n":1},{"d":94,"v":0.118,"n":1},{"d":83.9,"v":0.12,"n":1},{"d":79,"v":0.114,"n":1},{"d":90.7,"v":0.11,"n":1},{"d":92.7,"v":0.106,"n":1},{"d":94,"v":0.098,"n":1},{"d":90.7,"v":0.098,"n":1},{"d":82.6,"v":0.097,"n":1},{"d":76.1,"v":0.106,"n":1},{"d":133.8,"v":0.105,"n":1},{"d":130.1,"v":0.1,"n":1},{"d":127,"v":0.095,"n":1},{"d":147.7,"v":0.088,"n":1},{"d":149.3,"v":0.08,"n":1},{"d":96.4,"v":0.084,"n":1},{"d":101.3,"v":0.082,"n":1},{"d":107,"v":0.085,"n":1},{"d":114.3,"v":0.077,"n":1},{"d":116.7,"v":0.071,"n":1},{"d":124.1,"v":0.071,"n":1},{"d":127.3,"v":0.057,"n":1},{"d":133.8,"v":0.074,"n":1},{"d":136.2,"v":0.07,"n":1},{"d":142,"v":0.049,"n":1},{"d":147.7,"v":0.047,"n":1},{"d":106,"v":0.293,"n":1},{"d":99,"v":0.273,"n":1},{"d":173.7,"v":0.272,"n":1},{"d":157.9,"v":0.248,"n":1},{"d":156.9,"v":0.243,"n":1},{"d":242.8,"v":0.26,"n":1},{"d":306.8,"v":0.242,"n":1},{"d":136.9,"v":0.168,"n":1},{"d":167,"v":0.156,"n":1},{"d":187,"v":0.134,"n":1},{"d":268.8,"v":0.153,"n":1},{"d":167,"v":0.091,"n":1},{"d":212.8,"v":0.095,"n":1},{"d":238.9,"v":0.089,"n":1},{"d":159,"v":0.076,"n":1},{"d":172.8,"v":0.076,"n":1},{"d":153.8,"v":0.065,"n":1},{"d":164.9,"v":0.061,"n":1},{"d":189.9,"v":0.058,"n":1},{"d":202.9,"v":0.065,"n":1},{"d":222.8,"v":0.068,"n":1},{"d":147.3,"v":0.048,"n":2},{"d":150,"v":0.047,"n":1},{"d":181.8,"v":0.045,"n":1},{"d":191.9,"v":0.042,"n":1},{"d":202.9,"v":0.045,"n":1},{"d":207,"v":0.04,"n":2},{"d":211,"v":0.039,"n":1},{"d":228.1,"v":0.045,"n":2},{"d":253.8,"v":0.048,"n":1},{"d":261.7,"v":0.047,"n":1},{"d":300.6,"v":0.031,"n":1},{"d":350.9,"v":0.041,"n":1},{"d":370.7,"v":0.028,"n":1},{"d":100,"v":0.062,"n":1},{"d":104,"v":0.06,"n":1},{"d":110,"v":0.056,"n":1},{"d":119,"v":0.054,"n":1},{"d":103,"v":0.074,"n":1},{"d":112,"v":0.098,"n":1},{"d":86,"v":0.128,"n":1},{"d":92,"v":0.145,"n":1},{"d":66,"v":0.178,"n":1},{"d":58,"v":0.192,"n":1},{"d":80,"v":0.175,"n":1},{"d":55,"v":0.168,"n":1},{"d":45,"v":0.195,"n":1},{"d":48,"v":0.2,"n":1},{"d":68.6,"v":0.129,"n":1},{"d":77.6,"v":0.116,"n":1},{"d":84,"v":0.119,"n":1}
],
"h":[
{"d":161,"v":0.299},{"d":219.8,"v":0.101},{"d":317.7,"v":0.064},{"d":137.9,"v":0.088},{"d":139,"v":0.065},{"d":146,"v":0.056},{"d":136,"v":0.052},{"d":136,"v":0.052},{"d":155.8,"v":0.065},{"d":159,"v":0.051},{"d":174,"v":0.064},{"d":67.2,"v":0.181},{"d":105.4,"v":0.114},{"d":111.1,"v":0.091},{"d":116,"v":0.087},{"d":120,"v":0.085},{"d":96.4,"v":0.073},{"d":94,"v":0.064},{"d":102.9,"v":0.059},{"d":110.2,"v":0.065},{"d":113.5,"v":0.07},{"d":126.5,"v":0.073},{"d":128.9,"v":0.057},{"d":136.2,"v":0.052},{"d":138.7,"v":0.065},{"d":146,"v":0.057},{"d":46.5,"v":0.131},{"d":42.8,"v":0.191},{"d":97.2,"v":0.166},{"d":37,"v":0.165},{"d":44,"v":0.14},{"d":60,"v":0.1},{"d":72.8,"v":0.082}
],
"c":[
{"s":"u","d":10,"v":0.9},{"s":"u","d":10.7,"v":0.91},{"s":"u","d":12,"v":0.833},{"s":"u","d":14,"v":0.858},{"s":"u","d":15.1,"v":0.8},{"s":"u","d":17.2,"v":0.824},{"s":"u","d":18.2,"v":0.778},{"s":"u","d":19.2,"v":0.789},{"s":"u","d":20.2,"v":0.75},{"s":"u","d":22.1,"v":0.773},{"s":"u","d":23.1,"v":0.74},{"s":"u","d":24.9,"v":0.76},{"s":"u","d":26.3,"v":0.732},{"s":"u","d":27.2,"v":0.741},{"s":"u","d":28,"v":0.714},{"s":"u","d":30.2,"v":0.734},{"s":"u","d":31.4,"v":0.709},{"s":"u","d":34.1,"v":0.715},{"s":"u","d":36.1,"v":0.694},{"s":"u","d":37.2,"v":0.702},{"s":"u","d":39,"v":0.687},{"s":"u","d":40.6,"v":0.697},{"s":"u","d":42.2,"v":0.682},{"s":"u","d":43.6,"v":0.691},{"s":"u","d":45.2,"v":0.676},{"s":"u","d":46.8,"v":0.685},{"s":"u","d":48.4,"v":0.671},{"s":"u","d":50,"v":0.679},{"s":"u","d":51.6,"v":0.666},{"s":"u","d":53.3,"v":0.675},{"s":"u","d":55,"v":0.663},{"s":"u","d":56.6,"v":0.671},{"s":"u","d":58.2,"v":0.659},{"s":"u","d":60,"v":0.665},{"s":"u","d":62.5,"v":0.655},{"s":"u","d":65,"v":0.662},{"s":"u","d":67.5,"v":0.652},{"s":"u","d":70,"v":0.658},{"s":"u","d":72.5,"v":0.649},{"s":"u","d":75,"v":0.654},{"s":"u","d":77.5,"v":0.645},{"s":"u","d":80,"v":0.65},{"s":"u","d":82.5,"v":0.642},{"s":"u","d":85,"v":0.647},{"s":"u","d":87.5,"v":0.639},{"s":"u","d":90,"v":0.644},{"s":"u","d":92.5,"v":0.636},{"s":"u","d":95,"v":0.641},{"s":"u","d":97.5,"v":0.633},{"s":"u","d":100,"v":0.638},{"s":"u","d":102.5,"v":0.631},{"s":"u","d":105,"v":0.635},{"s":"u","d":107.5,"v":0.628},{"s":"u","d":110,"v":0.633},{"s":"u","d":112.5,"v":0.626},{"s":"u","d":115,"v":0.631},{"s":"u","d":117.5,"v":0.625},{"s":"u","d":120,"v":0.629},{"s":"u","d":122.5,"v":0.623},{"s":"u","d":125,"v":0.627},{"s":"u","d":127.5,"v":0.621},{"s":"u","d":130,"v":0.626},{"s":"u","d":135,"v":0.62},{"s":"u","d":140,"v":0.623},{"s":"u","d":145,"v":0.618},{"s":"u","d":150,"v":0.622},{"s":"u","d":155,"v":0.616},{"s":"u","d":160,"v":0.62},{"s":"u","d":165,"v":0.615},{"s":"u","d":170,"v":0.619},{"s":"u","d":175,"v":0.614},{"s":"u","d":180,"v":0.617},{"s":"u","d":185,"v":0.612},{"s":"u","d":190,"v":0.616},{"s":"u","d":195,"v":0.611},{"s":"u","d":200,"v":0.614},{"s":"u","d":210,"v":0.609},{"s":"u","d":220,"v":0.611},{"s":"u","d":230,"v":0.606},{"s":"u","d":240,"v":0.609},{"s":"u","d":250,"v":0.604},{"s":"u","d":260,"v":0.607},{"s":"u","d":270,"v":0.603},{"s":"u","d":280,"v":0.605},{"s":"u","d":290,"v":0.601},{"s":"u","d":300,"v":0.604},{"s":"u","d":310,"v":0.6},{"s":"u","d":320,"v":0.602},{"s":"u","d":330,"v":0.599},{"s":"u","d":340,"v":0.601},{"s":"u","d":350,"v":0.598},{"s":"u","d":360,"v":0.6},{"s":"u","d":370,"v":0.597},{"s":"u","d":380,"v":0.599},{"s":"u","d":390,"v":0.596},{"s":"u","d":400,"v":0.598},{"s":"u","d":410,"v":0.595},{"s":"u","d":420,"v":0.597},{"s":"u","d":430,"v":0.595},{"s":"u","d":440,"v":0.597},{"s":"u","d":450,"v":0.594},{"s":"u","d":460,"v":0.596},{"s":"u","d":470,"v":0.594},{"s":"u","d":480,"v":0.596},{"s":"u","d":490,"v":0.593},{"s":"u","d":500,"v":0.595},
{"s":"l","d":10.1,"v":0.101},{"s":"l","d":12,"v":0.084},{"s":"l","d":13.3,"v":0.155},{"s":"l","d":15,"v":0.134},{"s":"l","d":16.1,"v":0.188},{"s":"l","d":18,"v":0.168},{"s":"l","d":19.2,"v":0.211},{"s":"l","d":21,"v":0.191},{"s":"l","d":22,"v":0.227},{"s":"l","d":23,"v":0.214},{"s":"l","d":24.2,"v":0.25},{"s":"l","d":26,"v":0.231},{"s":"l","d":27.2,"v":0.258},{"s":"l","d":28.5,"v":0.243},{"s":"l","d":29.6,"v":0.27},{"s":"l","d":32,"v":0.249},{"s":"l","d":35.3,"v":0.286},{"s":"l","d":36.9,"v":0.275},{"s":"l","d":40.2,"v":0.297},{"s":"l","d":41.8,"v":0.285},{"s":"l","d":43.4,"v":0.3},{"s":"l","d":45,"v":0.289},{"s":"l","d":46.6,"v":0.303},{"s":"l","d":48.2,"v":0.294},{"s":"l","d":50,"v":0.308},{"s":"l","d":51.6,"v":0.298},{"s":"l","d":53.3,"v":0.312},{"s":"l","d":55,"v":0.302},{"s":"l","d":56.6,"v":0.315},{"s":"l","d":58.2,"v":0.306},{"s":"l","d":60,"v":0.318},{"s":"l","d":62.5,"v":0.312},{"s":"l","d":65,"v":0.323},{"s":"l","d":67.5,"v":0.317},{"s":"l","d":70,"v":0.328},{"s":"l","d":72.5,"v":0.322},{"s":"l","d":75,"v":0.332},{"s":"l","d":77.5,"v":0.327},{"s":"l","d":80,"v":0.336},{"s":"l","d":82.5,"v":0.331},{"s":"l","d":85,"v":0.34},{"s":"l","d":87.5,"v":0.335},{"s":"l","d":90,"v":0.343},{"s":"l","d":92.5,"v":0.338},{"s":"l","d":95,"v":0.346},{"s":"l","d":97.5,"v":0.342},{"s":"l","d":100,"v":0.349},{"s":"l","d":102.5,"v":0.344},{"s":"l","d":105,"v":0.351},{"s":"l","d":107.5,"v":0.347},{"s":"l","d":110,"v":0.354},{"s":"l","d":112.5,"v":0.349},{"s":"l","d":115,"v":0.356},{"s":"l","d":117.5,"v":0.352},{"s":"l","d":120,"v":0.358},{"s":"l","d":122.5,"v":0.354},{"s":"l","d":125,"v":0.359},{"s":"l","d":127.5,"v":0.356},{"s":"l","d":130,"v":0.361},{"s":"l","d":135,"v":0.357},{"s":"l","d":140,"v":0.363},{"s":"l","d":145,"v":0.36},{"s":"l","d":150,"v":0.366},{"s":"l","d":155,"v":0.363},{"s":"l","d":160,"v":0.368},{"s":"l","d":165,"v":0.365},{"s":"l","d":170,"v":0.371},{"s":"l","d":175,"v":0.368},{"s":"l","d":180,"v":0.373},{"s":"l","d":185,"v":0.37},{"s":"l","d":190,"v":0.375},{"s":"l","d":195,"v":0.372},{"s":"l","d":200,"v":0.376},{"s":"l","d":210,"v":0.373},{"s":"l","d":220,"v":0.377},{"s":"l","d":230,"v":0.375},{"s":"l","d":240,"v":0.378},{"s":"l","d":250,"v":0.377},{"s":"l","d":260,"v":0.38},{"s":"l","d":270,"v":0.378},{"s":"l","d":280,"v":0.381},{"s":"l","d":290,"v":0.379},{"s":"l","d":300,"v":0.382},{"s":"l","d":310,"v":0.38},{"s":"l","d":320,"v":0.382},{"s":"l","d":330,"v":0.38},{"s":"l","d":340,"v":0.383},{"s":"l","d":350,"v":0.381},{"s":"l","d":360,"v":0.384},{"s":"l","d":370,"v":0.382},{"s":"l","d":380,"v":0.384},{"s":"l","d":390,"v":0.383},{"s":"l","d":400,"v":0.385},{"s":"l","d":410,"v":0.383},{"s":"l","d":420,"v":0.386},{"s":"l","d":430,"v":0.384},{"s":"l","d":440,"v":0.386},{"s":"l","d":450,"v":0.385},{"s":"l","d":460,"v":0.387},{"s":"l","d":470,"v":0.385},{"s":"l","d":480,"v":0.388},{"s":"l","d":490,"v":0.386},{"s":"l","d":500,"v":0.388}
]
},
"layer":[
{"data":{"name":"g"},"mark":{"type":"circle","size":130,"strokeWidth":0},
"encoding":{
"x":{"field":"d","type":"quantitative","scale":{"domain":[-20,519.5],"nice":false,"zero":false},"axis":{"values":[0,100,200,300,400,500],"title":"Read Depth","labelPadding":50,"labelBaseline":"alphabetic","titleX":553,"titleY":144,"titleAlign":"center","titleBaseline":"alphabetic","titleAngle":0}},
"y":{"field":"v","type":"quantitative","scale":{"domain":[0.01471,0.98529],"nice":false,"zero":false},"axis":{"values":[0.2,0.4,0.6,0.8],"format":".1f","title":"Variant Allele Fraction","labelAngle":-90,"labelAlign":"center","labelBaseline":"alphabetic","labelPadding":28,"titleX":-124,"titleY":495,"titleAngle":-90,"titleAlign":"center","titleBaseline":"alphabetic"}},
"color":{"datum":"germline de novo","type":"nominal","scale":{"domain":["germline de novo","mosaic (overlap)","mosaic (EM−mosaic−only)","mosaic (MosaicHunter−only)"],"range":["#000000","#ff0000","#0000ff","#008000"]},
"legend":{"orient":"none","legendX":508,"legendY":0,"title":" ","titleFontSize":4,"titlePadding":2,"labelFont":"Liberation Sans","labelFontSize":40,"labelColor":"black","labelLimit":800,"labelOffset":16,"symbolType":"circle","symbolSize":283,"symbolOpacity":0.2,"symbolStrokeWidth":0,"symbolOffset":-3,"strokeColor":"black","fillColor":"white","padding":19,"clipHeight":48,"rowPadding":0}},
"opacity":{"field":"n","type":"quantitative","scale":{"type":"log","domain":[1,5],"range":[0.2,0.93],"clamp":true},"legend":null}}},
{"data":{"name":"o"},"mark":{"type":"circle","size":130,"strokeWidth":0,"opacity":0.2},
"encoding":{
"x":{"field":"d","type":"quantitative","scale":{"domain":[-20,519.5],"nice":false,"zero":false}},
"y":{"field":"v","type":"quantitative","scale":{"domain":[0.01471,0.98529],"nice":false,"zero":false}},
"color":{"datum":"mosaic (overlap)","type":"nominal","scale":{"domain":["germline de novo","mosaic (overlap)","mosaic (EM−mosaic−only)","mosaic (MosaicHunter−only)"],"range":["#000000","#ff0000","#0000ff","#008000"]}}}},
{"data":{"name":"e"},"mark":{"type":"circle","size":130,"strokeWidth":0},
"encoding":{
"x":{"field":"d","type":"quantitative","scale":{"domain":[-20,519.5],"nice":false,"zero":false}},
"y":{"field":"v","type":"quantitative","scale":{"domain":[0.01471,0.98529],"nice":false,"zero":false}},
"color":{"datum":"mosaic (EM−mosaic−only)","type":"nominal","scale":{"domain":["germline de novo","mosaic (overlap)","mosaic (EM−mosaic−only)","mosaic (MosaicHunter−only)"],"range":["#000000","#ff0000","#0000ff","#008000"]}},
"opacity":{"field":"n","type":"quantitative","scale":{"type":"log","domain":[1,5],"range":[0.2,0.93],"clamp":true},"legend":null}}},
{"data":{"name":"h"},"mark":{"type":"circle","size":130,"strokeWidth":0,"opacity":0.2},
"encoding":{
"x":{"field":"d","type":"quantitative","scale":{"domain":[-20,519.5],"nice":false,"zero":false}},
"y":{"field":"v","type":"quantitative","scale":{"domain":[0.01471,0.98529],"nice":false,"zero":false}},
"color":{"datum":"mosaic (MosaicHunter−only)","type":"nominal","scale":{"domain":["germline de novo","mosaic (overlap)","mosaic (EM−mosaic−only)","mosaic (MosaicHunter−only)"],"range":["#000000","#ff0000","#0000ff","#008000"]}}}},
{"data":{"name":"c"},"mark":{"type":"line","color":"#ff0000","strokeWidth":2.2},
"encoding":{
"x":{"field":"d","type":"quantitative","scale":{"domain":[-20,519.5],"nice":false,"zero":false}},
"y":{"field":"v","type":"quantitative","scale":{"domain":[0.01471,0.98529],"nice":false,"zero":false}},
"detail":{"field":"s","type":"nominal"}}},
{"data":{"values":[{"v":0.49}]},"mark":{"type":"rule","color":"#0000ff","strokeWidth":2},
"encoding":{
"y":{"field":"v","type":"quantitative","scale":{"domain":[0.01471,0.98529],"nice":false,"zero":false}}}}
]
}
